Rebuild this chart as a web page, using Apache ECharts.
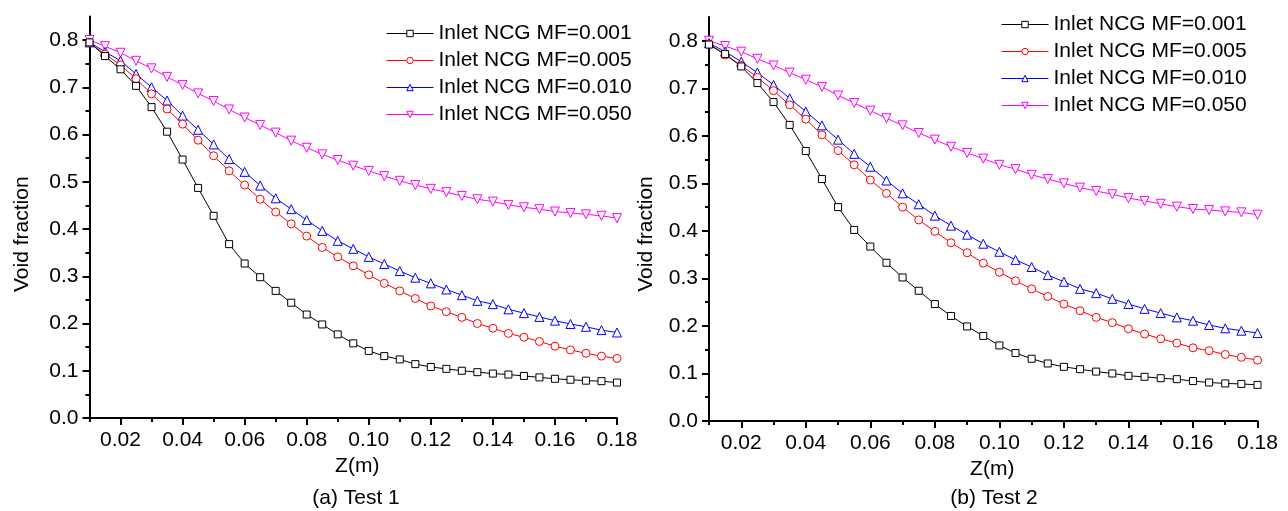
<!DOCTYPE html>
<html>
<head>
<meta charset="utf-8">
<script src="https://cdn.jsdelivr.net/npm/echarts@6/dist/echarts.min.js"></script>
<style>
html,body{margin:0;padding:0;background:#fff;}
#chart{width:1288px;height:511px;}
</style>
</head>
<body>
<div id="chart"></div>
<script>
const zValues = [0.010,0.015,0.020,0.025,0.030,0.035,0.040,0.045,0.050,0.055,0.060,0.065,0.070,0.075,0.080,0.085,0.090,0.095,0.100,0.105,0.110,0.115,0.120,0.125,0.130,0.135,0.140,0.145,0.150,0.155,0.160,0.165,0.170,0.175,0.180];

const seriesNames = ['Inlet NCG MF=0.001','Inlet NCG MF=0.005','Inlet NCG MF=0.010','Inlet NCG MF=0.050'];

// Test 1
const t1_mf001 = [0.795,0.766,0.738,0.703,0.658,0.606,0.547,0.487,0.428,0.368,0.327,0.298,0.269,0.244,0.219,0.198,0.177,0.158,0.142,0.131,0.124,0.114,0.108,0.104,0.100,0.097,0.094,0.092,0.089,0.086,0.083,0.081,0.079,0.078,0.075];
const t1_mf005 = [0.794,0.770,0.747,0.718,0.686,0.654,0.622,0.588,0.555,0.523,0.493,0.463,0.436,0.411,0.385,0.361,0.341,0.322,0.303,0.285,0.269,0.253,0.237,0.225,0.213,0.200,0.190,0.179,0.171,0.162,0.152,0.144,0.137,0.131,0.126];
const t1_mf010 = [0.795,0.775,0.756,0.728,0.700,0.672,0.640,0.610,0.579,0.548,0.521,0.492,0.465,0.442,0.419,0.396,0.375,0.358,0.341,0.326,0.311,0.297,0.285,0.272,0.260,0.248,0.241,0.230,0.222,0.214,0.206,0.199,0.193,0.186,0.181];
const t1_mf050 = [0.800,0.787,0.773,0.756,0.740,0.722,0.705,0.687,0.671,0.653,0.636,0.620,0.604,0.587,0.572,0.558,0.546,0.534,0.523,0.512,0.502,0.493,0.485,0.478,0.470,0.463,0.458,0.451,0.446,0.442,0.437,0.434,0.431,0.428,0.423];

// Test 2
const t2_mf001 = [0.792,0.772,0.746,0.711,0.671,0.623,0.568,0.509,0.450,0.402,0.367,0.333,0.302,0.274,0.246,0.221,0.199,0.179,0.159,0.143,0.131,0.121,0.114,0.109,0.104,0.100,0.095,0.093,0.090,0.088,0.084,0.081,0.079,0.078,0.076];
const t2_mf005 = [0.793,0.770,0.748,0.723,0.695,0.665,0.635,0.602,0.569,0.539,0.507,0.479,0.450,0.423,0.399,0.375,0.354,0.332,0.313,0.295,0.278,0.262,0.246,0.232,0.218,0.207,0.194,0.183,0.173,0.164,0.154,0.148,0.140,0.134,0.128];
const t2_mf010 = [0.795,0.777,0.756,0.733,0.707,0.679,0.651,0.622,0.592,0.562,0.535,0.506,0.479,0.456,0.432,0.411,0.392,0.373,0.356,0.339,0.324,0.307,0.293,0.278,0.269,0.257,0.246,0.236,0.227,0.218,0.211,0.202,0.195,0.190,0.185];
const t2_mf050 = [0.800,0.789,0.777,0.762,0.748,0.733,0.718,0.703,0.685,0.669,0.653,0.637,0.622,0.606,0.592,0.577,0.564,0.552,0.539,0.530,0.518,0.509,0.500,0.491,0.484,0.477,0.469,0.463,0.457,0.451,0.446,0.444,0.441,0.439,0.434];

// tick labels
const xMajorTicks = [0.02,0.04,0.06,0.08,0.10,0.12,0.14,0.16,0.18];
const xMinorTicks = [0.01,0.03,0.05,0.07,0.09,0.11,0.13,0.15,0.17];
const yMajorTicks = [0.0,0.1,0.2,0.3,0.4,0.5,0.6,0.7,0.8];
const yMinorTicks = [0.05,0.15,0.25,0.35,0.45,0.55,0.65,0.75];

const FONT = "'Liberation Sans', Arial, sans-serif";
const colors = ['#000000','#ff0000','#0000ff','#ff00ff'];
const symbols = ['rect','circle','triangle','triangle'];
const symSizes = [7,8,9,9];
const symRot = [0,0,0,180];

const chart = echarts.init(document.getElementById('chart'), null, {renderer:'canvas'});

function xAxes(gridIndex, nameGap, namePad){
  return [
    {
      type:'value', gridIndex, position:'bottom', min:0.01, max:0.18,
      name:'Z(m)', nameLocation:'middle', nameGap,
      nameTextStyle:{fontFamily:FONT,fontSize:21,color:'#000',padding:namePad},
      axisLine:{show:true,lineStyle:{color:'#000',width:2}},
      axisTick:{show:true,inside:false,length:7,lineStyle:{color:'#000',width:2},customValues:xMajorTicks},
      axisLabel:{show:true,margin:12,fontFamily:FONT,fontSize:21,color:'#000',customValues:xMajorTicks,formatter:v=>v.toFixed(2)},
      splitLine:{show:false}
    },
    {
      type:'value', gridIndex, position:'bottom', min:0.01, max:0.18,
      axisLine:{show:false},
      axisTick:{show:true,inside:false,length:4,lineStyle:{color:'#000',width:2},customValues:xMinorTicks},
      axisLabel:{show:false},
      splitLine:{show:false}
    }
  ];
}
function yAxes(gridIndex, nameGap, namePad){
  return [
    {
      type:'value', gridIndex, position:'left', min:0, max:0.85,
      name:'Void fraction', nameLocation:'middle', nameGap, nameRotate:90,
      nameTextStyle:{fontFamily:FONT,fontSize:21,color:'#000',padding:namePad},
      axisLine:{show:true,lineStyle:{color:'#000',width:2}},
      axisTick:{show:true,inside:false,length:7,lineStyle:{color:'#000',width:2},customValues:yMajorTicks},
      axisLabel:{show:true,margin:11,fontFamily:FONT,fontSize:21,color:'#000',customValues:yMajorTicks,formatter:v=>v.toFixed(1)},
      splitLine:{show:false}
    },
    {
      type:'value', gridIndex, position:'left', min:0, max:0.85,
      axisLine:{show:false},
      axisTick:{show:true,inside:false,length:4,lineStyle:{color:'#000',width:2},customValues:yMinorTicks},
      axisLabel:{show:false},
      splitLine:{show:false}
    }
  ];
}

function makeSeries(arrs, xi, yi){
  return arrs.map((arr,k)=>({
    name: seriesNames[k],
    type:'line',
    xAxisIndex:xi, yAxisIndex:yi,
    data: zValues.map((z,i)=>[z,arr[i]]),
    symbol: symbols[k], symbolSize: symSizes[k], symbolRotate: symRot[k],
    showAllSymbol:true,
    lineStyle:{color:colors[k],width:1},
    itemStyle:{color:'#ffffff',borderColor:colors[k],borderWidth:1},
    emphasis:{disabled:true},
    animation:false,
    z: 2 + (3-k)
  }));
}

function legend(left, top){
  return {
    orient:'vertical', left, top,
    itemWidth:47, itemHeight:8, itemGap:6,
    lineStyle:{width:1},
    itemStyle:{borderWidth:1},
    textStyle:{fontFamily:FONT,fontSize:21,color:'#000',lineHeight:21},
    data: seriesNames
  };
}

const option = {
  backgroundColor:'#fff',
  animation:false,
  grid:[
    {left:89.5, top:16.4, width:527.5, height:401.6},
    {left:709, top:17, width:548.5, height:404}
  ],
  title:[
    {text:'(a) Test 1', left:351, top:483, textAlign:'center', textStyle:{fontFamily:FONT,fontSize:21,fontWeight:'normal',color:'#000'}},
    {text:'(b) Test 2', left:989, top:483, textAlign:'center', textStyle:{fontFamily:FONT,fontSize:21,fontWeight:'normal',color:'#000'}}
  ],
  legend:[ legend(381,18), legend(996,9) ],
  xAxis:[...xAxes(0,38,[0,0,0,8]), ...xAxes(1,35,[0,0,0,18])],
  yAxis:[...yAxes(0,57,[0,34,0,0]), ...yAxes(1,52,[0,30,0,0])],
  series:[
    ...makeSeries([t1_mf001,t1_mf005,t1_mf010,t1_mf050],0,0),
    ...makeSeries([t2_mf001,t2_mf005,t2_mf010,t2_mf050],2,2)
  ]
};
chart.setOption(option);
</script>
</body>
</html>
